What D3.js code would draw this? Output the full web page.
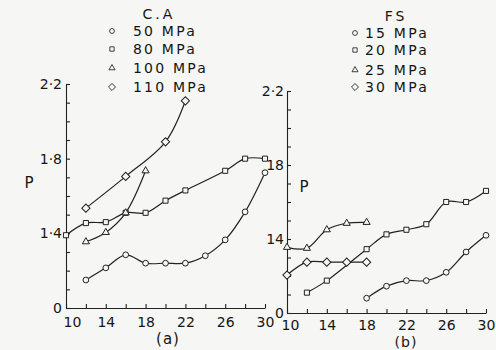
<!DOCTYPE html>
<html>
<head>
<meta charset="utf-8">
<script src="https://cdn.jsdelivr.net/npm/d3@7"></script>
<style>
  body { margin: 0; background: #f6f6f4; }
  svg { display: block; font-family: "DejaVu Sans", sans-serif; }
  .axis path, .axis line { stroke: #222; stroke-width: 1.1; }
  .axis text { font-size: 14px; fill: #151515; font-family: "DejaVu Sans", sans-serif; }
</style>
</head>
<body>
<div id="chart"></div>
<script>
// panel (a) C.A
const ca50X = [12, 14, 16, 18, 20, 22, 24, 26, 28, 30];
const ca50P = [1.15, 1.215, 1.285, 1.24, 1.24, 1.24, 1.28, 1.365, 1.515, 1.725];
const ca80X = [10, 12, 14, 16, 18, 20, 22, 26, 28, 30];
const ca80P = [1.39, 1.455, 1.46, 1.51, 1.51, 1.575, 1.63, 1.735, 1.8, 1.8];
const ca100X = [12, 14, 16, 18];
const ca100P = [1.355, 1.405, 1.51, 1.735];
const ca110X = [12, 16, 20, 22];
const ca110P = [1.535, 1.705, 1.89, 2.11];

// panel (b) FS
const fs15X = [18, 20, 22, 24, 26, 28, 30];
const fs15P = [1.08, 1.145, 1.175, 1.175, 1.22, 1.33, 1.42];
const fs20X = [12, 14, 18, 20, 22, 24, 26, 28, 30];
const fs20P = [1.11, 1.175, 1.345, 1.425, 1.45, 1.48, 1.6, 1.6, 1.66];
const fs25X = [10, 12, 14, 16, 18];
const fs25P = [1.355, 1.35, 1.45, 1.485, 1.49];
const fs30X = [10, 12, 14, 16, 18];
const fs30P = [1.205, 1.275, 1.275, 1.275, 1.275];

const caLabels = ['50 MPa', '80 MPa', '100 MPa', '110 MPa'];
const fsLabels = ['15 MPa', '20 MPa', '25 MPa', '30 MPa'];
const yTickLabelsA = { '2.2': '2·2', '1.8': '1·8', '1.4': '1·4', '1.0': '0' };
const yTickLabelsB = { '2.2': '2·2', '1.8': '18', '1.4': '14', '1.0': '0' };
const xTickLabels = [10, 14, 18, 22, 26, 30];

const W = 496, H = 350;
const svg = d3.select('#chart').append('svg').attr('width', W).attr('height', H);

const markers = ['circle', 'square', 'triangle', 'diamond'];
function markerPath(kind) {
  if (kind === 'circle') return d3.symbol(d3.symbolCircle, 26)();
  if (kind === 'square') return d3.symbol(d3.symbolSquare, 26)();
  if (kind === 'triangle') return d3.symbol(d3.symbolTriangle, 22)();
  return d3.symbol(d3.symbolSquare, 34)();
}
function markerTransform(kind, x, y, k) {
  return kind === 'diamond'
    ? `translate(${x},${y}) rotate(45) scale(${k})`
    : `translate(${x},${y}) scale(${k})`;
}

function drawPanel(opt) {
  const x = d3.scaleLinear().domain([10, 30]).range(opt.xRange);
  const y = d3.scaleLinear().domain([1.0, 2.2]).range(opt.yRange);
  const g = svg.append('g');

  // y axis, ticks every 0.1 pointing inward
  const yTicks = d3.range(10, 23).map(v => v / 10);
  g.append('g')
    .attr('class', 'axis')
    .attr('transform', `translate(${opt.xRange[0]},0)`)
    .call(d3.axisLeft(y).tickValues(yTicks).tickSizeInner(-4).tickSizeOuter(0).tickPadding(opt.yPad)
      .tickFormat(d => opt.yLabels[d.toFixed(1)] || ''));

  // x axis, ticks every 2 pointing up
  const xa = g.append('g')
    .attr('class', 'axis')
    .attr('transform', `translate(0,${opt.yRange[0]})`)
    .call(d3.axisBottom(x).tickValues(d3.range(10, 31, 2)).tickSizeInner(-4).tickSizeOuter(0).tickPadding(opt.xPad)
      .tickFormat(d => xTickLabels.includes(d) ? d : ''));
  xa.selectAll('.tick text').filter(d => d === 10).attr('dx', opt.firstDx);

  const line = d3.line().x(d => x(d[0])).y(d => y(d[1])).curve(d3.curveCatmullRom.alpha(0.5));

  opt.series.forEach(s => {
    const pts = s.x.map((v, j) => [v, s.p[j]]);
    g.append('path')
      .attr('d', line(pts))
      .attr('fill', 'none')
      .attr('stroke', '#222')
      .attr('stroke-width', 1.2);
  });
  opt.series.forEach((s, i) => {
    const pts = s.x.map((v, j) => [v, s.p[j]]);
    g.selectAll(null)
      .data(pts)
      .enter()
      .append('path')
      .attr('d', markerPath(markers[i]))
      .attr('transform', d => markerTransform(markers[i], x(d[0]), y(d[1]), 1))
      .attr('fill', '#f6f6f4')
      .attr('stroke', '#222')
      .attr('stroke-width', 1);
  });

  // P label and panel caption
  g.append('text').attr('x', opt.pPos[0]).attr('y', opt.pPos[1])
    .attr('text-anchor', 'middle').attr('dominant-baseline', 'central')
    .attr('font-size', 15).attr('fill', '#151515').text('P');
  g.append('text').attr('x', opt.capPos[0]).attr('y', opt.capPos[1])
    .attr('text-anchor', 'middle').attr('dominant-baseline', 'central')
    .attr('font-size', opt.capSize).attr('letter-spacing', 1).attr('fill', '#151515').text(opt.caption);

  // legend
  const lg = g.append('g');
  lg.append('text').attr('x', opt.titlePos[0]).attr('y', opt.titlePos[1])
    .attr('text-anchor', 'middle').attr('dominant-baseline', 'central')
    .attr('font-size', 14).attr('letter-spacing', 3).attr('fill', '#151515').text(opt.title);
  opt.labels.forEach((lab, i) => {
    const ry = opt.rowsY[i];
    lg.append('path')
      .attr('d', markerPath(markers[i]))
      .attr('transform', markerTransform(markers[i], opt.markerX, ry, 0.85))
      .attr('fill', '#f6f6f4').attr('stroke', '#222').attr('stroke-width', 1);
    lg.append('text').attr('x', opt.textX).attr('y', ry)
      .attr('dominant-baseline', 'central')
      .attr('font-size', 14).attr('letter-spacing', 2.2).attr('fill', '#151515').text(lab);
  });
}

drawPanel({
  xRange: [66, 265], yRange: [308, 84], yPad: 4, xPad: 9, firstDx: 6,
  yLabels: yTickLabelsA,
  series: [
    { x: ca50X, p: ca50P }, { x: ca80X, p: ca80P },
    { x: ca100X, p: ca100P }, { x: ca110X, p: ca110P }
  ],
  pPos: [29, 183], capPos: [168, 339], capSize: 15, caption: '(a)',
  title: 'C.A', titlePos: [159, 14], labels: caLabels,
  markerX: 112, textX: 133, rowsY: [31, 49, 68, 87]
});

drawPanel({
  xRange: [287, 486], yRange: [313, 91], yPad: 3, xPad: 7, firstDx: 3,
  yLabels: yTickLabelsB,
  series: [
    { x: fs15X, p: fs15P }, { x: fs20X, p: fs20P },
    { x: fs25X, p: fs25P }, { x: fs30X, p: fs30P }
  ],
  pPos: [304, 187], capPos: [406, 342], capSize: 14, caption: '(b)',
  title: 'FS', titlePos: [396, 16], labels: fsLabels,
  markerX: 355, textX: 365, rowsY: [33, 50, 70, 87]
});
</script>
</body>
</html>
